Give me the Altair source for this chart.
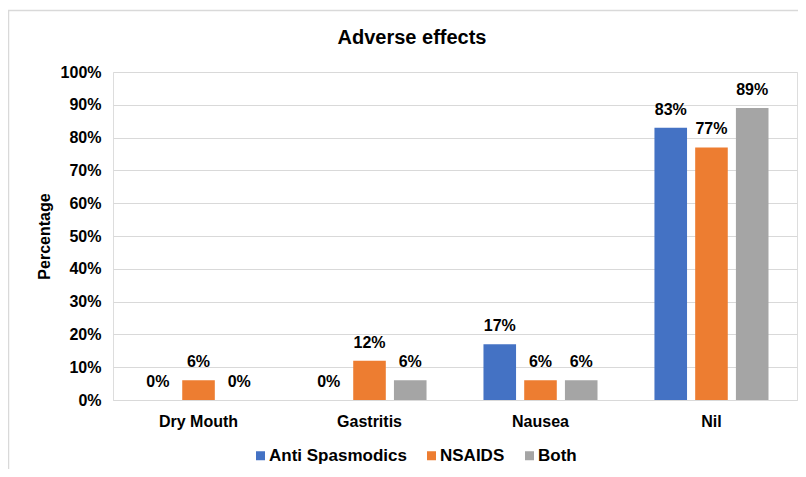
import altair as alt
import pandas as pd

chart_title = "Adverse effects"
categories = ["Dry Mouth", "Gastritis", "Nausea", "Nil"]
series = ["Anti Spasmodics", "NSAIDS", "Both"]
anti_spasmodics = [0, 0, 17, 83]
nsaids = [6, 12, 6, 77]
both = [0, 6, 6, 89]
colors = ["#4472C4", "#ED7D31", "#A5A5A5"]
y_ticks = [0, 10, 20, 30, 40, 50, 60, 70, 80, 90, 100]

rows = []
for s, vals in zip(series, [anti_spasmodics, nsaids, both]):
    for c, v in zip(categories, vals):
        rows.append({"category": c, "series": s, "value": v, "label": f"{v}%"})
df = pd.DataFrame(rows)

FONT = "Liberation Sans"

y_axis = alt.Axis(title="Percentage", values=y_ticks, tickCount=11, labelOverlap=False,
                  labelExpr="datum.value + '%'",
                  labelFont=FONT, labelFontSize=16, labelFontWeight="bold",
                  labelColor="#000000", labelPadding=12, ticks=False, domain=False,
                  grid=True, gridColor="#d9d9d9", gridWidth=1,
                  titleFont=FONT, titleFontSize=16, titleFontWeight="bold",
                  titleColor="#000000", titlePadding=8)
y_enc = alt.Y("value:Q", scale=alt.Scale(domain=[0, 100], nice=False), axis=y_axis)

base = alt.Chart(df).encode(
    x=alt.X("category:N", sort=categories,
            scale=alt.Scale(paddingInner=0.333, paddingOuter=0.1667),
            axis=alt.Axis(title=None, labelAngle=0, labelFont=FONT, labelFontSize=16,
                          labelFontWeight="bold", labelColor="#000000", labelPadding=13,
                          ticks=False, domainColor="#d9d9d9", domainWidth=1)),
    xOffset=alt.XOffset("series:N", sort=series,
                        scale=alt.Scale(paddingInner=0.2, paddingOuter=0)),
    y=y_enc,
)

bars = base.mark_bar().encode(
    color=alt.Color("series:N", sort=series,
                    scale=alt.Scale(domain=series, range=colors),
                    legend=alt.Legend(title=None, orient="none", legendX=139, legendY=375,
                                      direction="horizontal", symbolType="square",
                                      symbolSize=81, symbolStrokeWidth=0,
                                      labelFont=FONT, labelFontSize=17, labelFontWeight="bold",
                                      labelColor="#000000", labelOffset=0, columnPadding=16)),
)

labels = base.mark_text(font=FONT, fontSize=16, fontWeight="bold", color="#000000",
                        baseline="middle", dy=-18).encode(
    text="label:N",
)

frame_df = pd.DataFrame({"f": [1]})
frame = alt.Chart(frame_df).mark_rect(fill=None, stroke="#d9d9d9", strokeWidth=1.5).encode(
    x=alt.value(-104.5), x2=alt.value(720), y=alt.value(-61.5), y2=alt.value(420)
)

title_df = pd.DataFrame({"t": [chart_title]})
title = alt.Chart(title_df).mark_text(font=FONT, fontSize=20, fontWeight="bold",
                                      color="#000000", baseline="middle", align="center").encode(
    x=alt.value(299), y=alt.value(-34), text="t:N"
)

chart = alt.layer(frame, title, bars, labels).properties(
    width=684, height=328,
    autosize=alt.AutoSizeParams(type="none"),
    padding={"left": 105, "top": 64, "right": 1, "bottom": 69},
).configure_view(stroke=None).configure(background="white")

chart.save("out.html", embed_options={"renderer": "svg", "actions": False})
